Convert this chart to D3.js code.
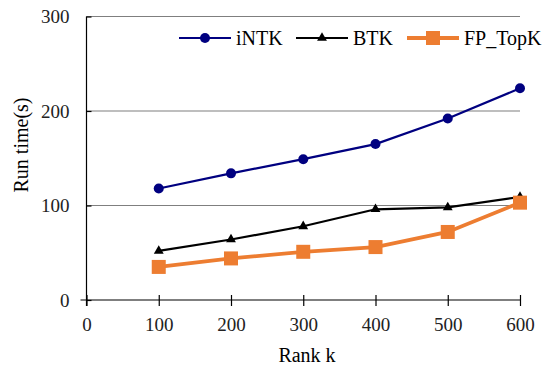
<!DOCTYPE html>
<html>
<head>
<meta charset="utf-8">
<script src="https://cdn.jsdelivr.net/npm/d3@7"></script>
<style>
  body { margin: 0; background: #fff; }
</style>
</head>
<body>
<svg id="chart"></svg>
<script>
const ranks = [100, 200, 300, 400, 500, 600];
const intk = [118, 134, 149, 165, 192, 224];
const btk = [52, 64, 78, 96, 98, 109];
const fpTopk = [35, 44, 51, 56, 72, 103];
const xTicks = [0, 100, 200, 300, 400, 500, 600];
const yTicks = [0, 100, 200, 300];

const FONT = "'Liberation Serif', 'Times New Roman', Times, serif";

const svg = d3.select("#chart")
    .attr("width", 550)
    .attr("height", 365);

const x = d3.scaleLinear().domain([0, 600]).range([86.5, 520]);
const y = d3.scaleLinear().domain([0, 300]).range([300, 16.5]);

// gridlines
svg.append("g")
    .selectAll("line")
    .data(yTicks.filter(d => d > 0))
    .join("line")
    .attr("x1", x(0))
    .attr("x2", x(600))
    .attr("y1", d => y(d))
    .attr("y2", d => y(d))
    .style("stroke", "#7f7f7f")
    .style("stroke-width", 1.2);

// axes
const yAxis = svg.append("g")
    .attr("transform", `translate(${x(0)},0)`)
    .call(d3.axisLeft(y).tickValues(yTicks).tickSize(5).tickSizeOuter(0).tickPadding(12));
yAxis.selectAll(".tick line").attr("x2", 5);
yAxis.select(".domain").attr("d", `M0,${y(300)}V${y(0) + 6}`);

const xAxis = svg.append("g")
    .attr("transform", `translate(0,${y(0)})`)
    .call(d3.axisBottom(x).tickValues(xTicks).tickSize(6).tickSizeOuter(0).tickPadding(12));
xAxis.selectAll(".tick line").attr("y1", -5);
xAxis.select(".domain").attr("d", `M${x(0) - 6},0H${x(600)}`);

[xAxis, yAxis].forEach(a => {
    a.attr("font-family", null).attr("font-size", null);
    a.selectAll("text")
        .style("font-family", FONT)
        .style("font-size", "19px")
        .style("fill", "#222");
    a.selectAll("line, path").style("stroke", "#000").style("stroke-width", 1.2);
});

// axis titles
svg.append("text")
    .attr("x", 307)
    .attr("y", 362)
    .attr("text-anchor", "middle")
    .style("font-family", FONT)
    .style("font-size", "20px")
    .text("Rank k");

svg.append("text")
    .attr("transform", "translate(28,145) rotate(-90)")
    .attr("text-anchor", "middle")
    .style("font-family", FONT)
    .style("font-size", "20px")
    .text("Run time(s)");

const series = [
    { name: "iNTK", values: intk, color: "#000080", width: 2.2, marker: "circle" },
    { name: "BTK", values: btk, color: "#000000", width: 2.2, marker: "triangle" },
    { name: "FP_TopK", values: fpTopk, color: "#ED7D31", width: 3.8, marker: "square" }
];

const line = d3.line()
    .x((d, i) => x(ranks[i]))
    .y(d => y(d));

function drawMarker(g, type, color) {
    if (type === "circle") {
        g.append("circle").attr("r", 5).style("fill", color);
    } else if (type === "triangle") {
        g.append("path").attr("d", d3.symbol(d3.symbolTriangle, 42)()).style("fill", color);
    } else {
        g.append("rect")
            .attr("x", -7).attr("y", -7)
            .attr("width", 14).attr("height", 14)
            .style("fill", color);
    }
}

series.forEach(s => {
    svg.append("path")
        .datum(s.values)
        .attr("d", line)
        .style("fill", "none")
        .style("stroke", s.color)
        .style("stroke-width", s.width);

    s.values.forEach((v, i) => {
        const g = svg.append("g")
            .attr("transform", `translate(${x(ranks[i])},${y(v)})`);
        drawMarker(g, s.marker, s.color);
    });
});

// legend
const legendPos = [179, 296, 407];
series.forEach((s, i) => {
    const lg = svg.append("g")
        .attr("transform", `translate(${legendPos[i]},38)`);
    lg.append("line")
        .attr("x1", 0).attr("x2", 52)
        .style("stroke", s.color)
        .style("stroke-width", s.width);
    const m = lg.append("g").attr("transform", "translate(26,0)");
    drawMarker(m, s.marker, s.color);
    lg.append("text")
        .attr("x", 57)
        .attr("y", 7)
        .style("font-family", FONT)
        .style("font-size", "20px")
        .text(s.name);
});
</script>
</body>
</html>
